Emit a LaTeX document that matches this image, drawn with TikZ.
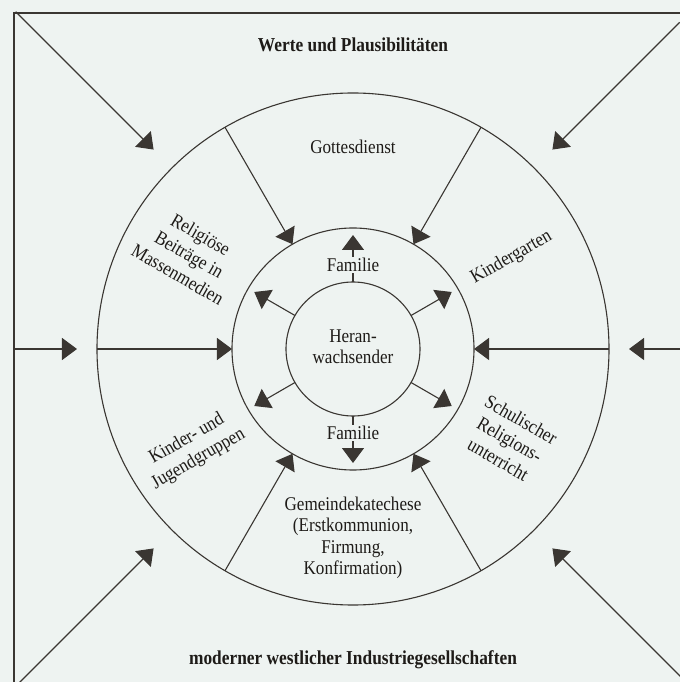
\documentclass[tikz,border=0pt]{standalone}
\usepackage{fontspec}
\setmainfont{Liberation Serif}[FakeStretch=0.88]
\usetikzlibrary{arrows.meta}
\definecolor{paper}{RGB}{238,243,241}
\definecolor{ink}{RGB}{58,54,50}
\definecolor{txt}{RGB}{30,27,24}

\begin{document}
\begin{tikzpicture}[x=1bp,y=1bp,
  ring/.style={circle, draw=ink, line width=1.1bp, inner sep=0pt, outer sep=0pt},
  flow/.style={draw=ink, line width=1.1bp, -{Triangle[length=15bp,width=22bp]}},
  lbl/.style={text=txt, font=\fontsize{19.5}{21.5}\selectfont, align=center, inner sep=1bp},
  tilted/.style={lbl, font=\fontsize{19.5}{23}\selectfont},
  head/.style={text=txt, font=\bfseries\fontsize{19.8}{22}\selectfont, inner sep=1bp},
]
% page and frame
\fill[paper] (-353,-333) rectangle (327,349);
\useasboundingbox (-353,-333) rectangle (327,349);
\clip (-353,-333) rectangle (327,349);
\draw[ink, line width=1.3bp] (-339,-345) -- (-339,336) -- (340,336);

% the three rings
\node[ring, minimum size=512bp] (outer) at (0,0) {};
\node[ring, minimum size=242bp] (middle) at (0,0) {};
\node[ring, minimum size=134bp] (inner) at (0,0) {};

% influences from the surrounding society
\coordinate (cTL) at (135:477);
\coordinate (cTR) at (45:462);
\coordinate (cBL) at (225:482);
\coordinate (cBR) at (315:475);
\coordinate (tTL) at (135:282);
\coordinate (tTR) at (45:282);
\coordinate (tBL) at (225:282);
\coordinate (tBR) at (315:282);
\coordinate (wL) at (-339,0);
\coordinate (wR) at (330,0);
\coordinate (tL) at (-276,0);
\coordinate (tR) at (276,0);
\draw[flow] (cTL) -- (tTL);
\draw[flow] (cTR) -- (tTR);
\draw[flow] (cBL) -- (tBL);
\draw[flow] (cBR) -- (tBR);
\draw[flow] (wL) -- (tL);
\draw[flow] (wR) -- (tR);

% from the outer ring to the family ring
\foreach \a in {0,60,120,180,240,300}
  \draw[flow] (outer.\a) -- (middle.\a);

% from the adolescent outwards
\foreach \a in {30,90,150,210,270,330}
  \draw[flow, shorten >=7bp] (inner.\a) -- (middle.\a);

% labels
\node[head] (werte) at (0,304) {Werte und Plausibilitäten};
\node[head] (moderner) at (0,-311) {moderner westlicher Industriegesellschaften};
\node[lbl] (gottesdienst) at (0,202) {Gottesdienst};
\node[lbl] (gemeinde) at (0,-189) {Gemeindekatechese\\(Erstkommunion,\\Firmung,\\Konfirmation)};
\node[lbl, fill=paper] (familieO) at (0,84) {Familie};
\node[lbl, fill=paper] (familieU) at (0,-84) {Familie};
\node[lbl] (heran) at (0,2) {Heran-\\wachsender};
\node[tilted, rotate=-30] (medien) at (150:189) {Religiöse\\Beiträge in\\Massenmedien};
\node[tilted, rotate=30] (kiga) at (30:183) {Kindergarten};
\node[tilted, rotate=-30] (schule) at (-30:181) {Schulischer\\Religions-\\unterricht};
\node[tilted, rotate=30] (gruppen) at (212:189) {Kinder- und\\Jugendgruppen};
\end{tikzpicture}
\end{document}
